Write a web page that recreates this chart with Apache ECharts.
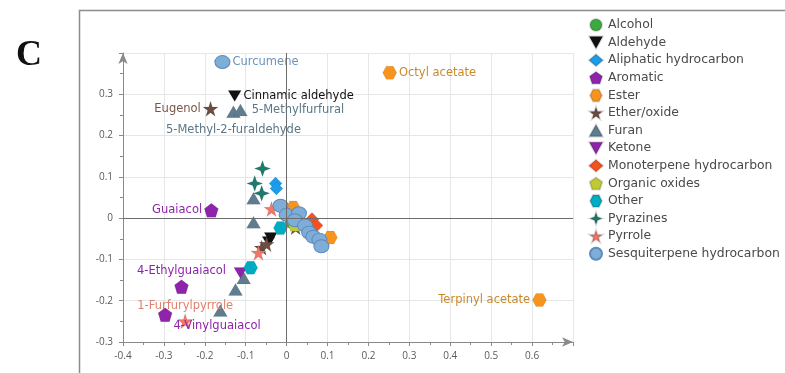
<!DOCTYPE html>
<html>
<head>
<meta charset="utf-8">
<script src="https://cdn.jsdelivr.net/npm/echarts@6/dist/echarts.min.js"></script>
<style>
  html, body { margin: 0; padding: 0; background: #fff; }
  #chart { width: 785px; height: 373px; }
</style>
</head>
<body>
<div id="chart"></div>
<script>
// Compound classes (legend order) and their score points [PC1, PC2, optional name]
const categories = [
  'Alcohol', 'Aldehyde', 'Aliphatic hydrocarbon', 'Aromatic', 'Ester', 'Ether/oxide',
  'Furan', 'Ketone', 'Monoterpene hydrocarbon', 'Organic oxides', 'Other',
  'Pyrazines', 'Pyrrole', 'Sesquiterpene hydrocarbon'
];

const alcohol = [[0.012, -0.010]];
const aldehyde = [[-0.127, 0.296, 'Cinnamic aldehyde'], [-0.039, -0.048], [-0.044, -0.058]];
const aliphatic = [[-0.027, 0.084], [-0.025, 0.072], [0.030, 0.003]];
const aromatic = [[-0.184, 0.019, 'Guaiacol'], [-0.257, -0.166, '4-Ethylguaiacol'], [-0.297, -0.234, '4-Vinylguaiacol']];
const ester = [[0.252, 0.352, 'Octyl acetate'], [0.618, -0.198, 'Terpinyl acetate'], [0.016, 0.026], [0.107, -0.047]];
const etherOxide = [[-0.186, 0.265, 'Eugenol'], [-0.061, -0.072], [-0.049, -0.063], [0.022, -0.022]];
const furan = [[-0.130, 0.258, '5-Methyl-2-furaldehyde'], [-0.113, 0.262, '5-Methylfurfural'], [-0.081, 0.048], [-0.081, -0.010], [-0.105, -0.145], [-0.125, -0.173], [-0.162, -0.224]];
const ketone = [[-0.113, -0.133]];
const monoterpene = [[0.062, -0.003], [0.072, -0.018], [0.052, -0.026]];
const organicOxides = [[0.020, -0.015]];
const other = [[-0.015, -0.024], [-0.088, -0.120]];
const pyrazines = [[-0.059, 0.120], [-0.078, 0.084], [-0.061, 0.060]];
const pyrrole = [[-0.037, 0.022], [-0.069, -0.084], [-0.248, -0.250, '1-Furfurylpyrrole']];
const sesquiterpene = [[-0.157, 0.378, 'Curcumene'], [-0.015, 0.030], [0.000, 0.008], [0.030, 0.012], [0.020, -0.005], [0.045, -0.018], [0.055, -0.035], [0.065, -0.045], [0.080, -0.052], [0.085, -0.068]];

const seriesValues = [alcohol, aldehyde, aliphatic, aromatic, ester, etherOxide, furan, ketone,
  monoterpene, organicOxides, other, pyrazines, pyrrole, sesquiterpene];

// Axis ranges and tick step
const xRange = [-0.4, 0.7];
const yRange = [-0.3, 0.4];
const tickStep = 0.1;
const zeroLines = [0, 0];

// Marker shapes
const shapes = {
  circle: 'circle',
  downTriangle: 'path://M0,0 L100,0 L50,90 Z',
  upTriangle: 'path://M50,0 L100,90 L0,90 Z',
  diamond: 'diamond',
  pentagon: 'path://M50,0 L97.6,34.5 L79.4,90.5 L20.6,90.5 L2.4,34.5 Z',
  hexagon: 'path://M25,0 L75,0 L100,50 L75,100 L25,100 L0,50 Z',
  star5: 'path://M50,0 L61.8,35.3 L99,35.3 L69,57.3 L80.4,92.7 L50,70.8 L19.6,92.7 L31,57.3 L1,35.3 L38.2,35.3 Z',
  star4: 'path://M50,0 L63,37 L100,50 L63,63 L50,100 L37,63 L0,50 L37,37 Z'
};

const styles = [
  { color: '#3daa3f', symbol: shapes.circle, size: 13, label: '#3daa3f' },
  { color: '#111111', symbol: shapes.downTriangle, size: [13, 11], label: '#111111' },
  { color: '#1e9be9', symbol: shapes.diamond, size: 13, label: '#1e9be9' },
  { color: '#8e24aa', symbol: shapes.pentagon, size: 14, label: '#8e24aa' },
  { color: '#f7941d', symbol: shapes.hexagon, size: [14, 13], label: '#c98a2a' },
  { color: '#6d4c41', symbol: shapes.star5, size: 15, label: '#7a5548' },
  { color: '#5f7d8e', symbol: shapes.upTriangle, size: [14, 12], label: '#5b7688' },
  { color: '#8e24aa', symbol: shapes.downTriangle, size: [13, 11], label: '#8e24aa' },
  { color: '#f4511e', symbol: shapes.diamond, size: 14, label: '#f4511e' },
  { color: '#c0ca33', symbol: shapes.pentagon, size: 14, label: '#c0ca33' },
  { color: '#00acc1', symbol: shapes.hexagon, size: [14, 13], label: '#00acc1' },
  { color: '#1f7a6c', symbol: shapes.star4, size: 16, label: '#1f7a6c' },
  { color: '#f0766a', symbol: shapes.star5, size: 15, label: '#e0806e' },
  { color: '#7eadd8', symbol: shapes.circle, size: [15, 13], label: '#6a93bd', border: '#5c8cbb' }
];

// Where each compound name sits relative to its marker
const labelPlacement = {
  'Curcumene': { position: 'right', distance: 2 },
  'Octyl acetate': { position: 'right', distance: 2 },
  'Cinnamic aldehyde': { position: 'right', distance: 2 },
  'Eugenol': { position: 'left', distance: 2 },
  '5-Methylfurfural': { position: 'right', distance: 4 },
  '5-Methyl-2-furaldehyde': { position: 'bottom', distance: 6 },
  'Guaiacol': { position: 'left', distance: 2 },
  '4-Ethylguaiacol': { position: 'top', distance: 2 },
  '1-Furfurylpyrrole': { position: 'top', distance: 2 },
  '4-Vinylguaiacol': { position: 'bottom', distance: 1, offset: [52, -3] },
  'Terpinyl acetate': { position: 'left', distance: 2 }
};

const FONT = '"DejaVu Sans", "Open Sans", sans-serif';
const TICK_FONT = '"Open Sans", "Noto Sans", sans-serif';

const series = categories.map(function (name, i) {
  const st = styles[i];
  const data = seriesValues[i].map(function (p) {
    const item = { value: [p[0], p[1]] };
    if (p[2]) {
      const lp = labelPlacement[p[2]];
      item.name = p[2];
      item.label = {
        show: true,
        formatter: p[2],
        position: lp.position,
        distance: lp.distance,
        offset: lp.offset || [0, 0],
        color: st.label,
        fontSize: 11.5,
        fontFamily: FONT
      };
    }
    return item;
  });
  return {
    name: name,
    type: 'scatter',
    symbol: st.symbol,
    symbolSize: st.size,
    itemStyle: {
      color: st.color,
      borderColor: st.border || 'rgba(0,0,0,0.15)',
      borderWidth: st.border ? 1 : 0.5,
      opacity: 1
    },
    emphasis: { disabled: true },
    data: data,
    z: 3
  };
});

// Dark reference lines through the origin
series.push({
  name: 'zero',
  type: 'scatter',
  data: [],
  silent: true,
  markLine: {
    silent: true,
    symbol: 'none',
    label: { show: false },
    lineStyle: { color: '#6b6b6b', width: 1, type: 'solid' },
    data: [{ xAxis: zeroLines[0] }, { yAxis: zeroLines[1] }]
  },
  z: 2
});

function tickLabel(maxShown) {
  return function (v) {
    const r = Math.round(v * 10) / 10;
    if (r > maxShown + 1e-9) return '';
    return r === 0 ? '0' : String(r);
  };
}

const axisCommon = {
  type: 'value',
  interval: tickStep,
  axisLine: {
    show: true,
    onZero: false,
    symbol: ['none', 'arrow'],
    symbolSize: [7, 11],
    lineStyle: { color: '#8a8a8a', width: 1 }
  },
  axisTick: { show: true, length: 4, lineStyle: { color: '#8a8a8a' } },
  minorTick: { show: true, splitNumber: 2, length: 3, lineStyle: { color: '#8a8a8a' } },
  splitLine: { show: true, lineStyle: { color: '#e6e6e6', width: 1 } },
  axisLabel: { color: '#5a5a5a', fontSize: 10, fontFamily: TICK_FONT }
};

const chart = echarts.init(document.getElementById('chart'), null, { renderer: 'canvas' });
chart.setOption({
  animation: false,
  backgroundColor: '#ffffff',
  grid: { left: 123, right: 212, top: 53, bottom: 31, containLabel: false },
  xAxis: Object.assign({}, axisCommon, {
    min: xRange[0], max: xRange[1],
    axisLabel: Object.assign({}, axisCommon.axisLabel, { margin: 9, formatter: tickLabel(0.6) })
  }),
  yAxis: Object.assign({}, axisCommon, {
    min: yRange[0], max: yRange[1],
    axisLabel: Object.assign({}, axisCommon.axisLabel, { margin: 10, formatter: tickLabel(0.3) })
  }),
  legend: {
    data: categories,
    orient: 'vertical',
    left: 588,
    top: 18,
    padding: 0,
    itemWidth: 14,
    itemHeight: 12,
    itemGap: 3.6,
    textStyle: { color: '#4a4a4a', fontSize: 12.4, fontFamily: FONT },
    selectedMode: false
  },
  graphic: [
    {
      type: 'rect',
      left: 77, top: 8,
      shape: { width: 760, height: 420 },
      style: { fill: 'none', stroke: '#8c8c8c', lineWidth: 1.5 },
      silent: true
    },
    {
      type: 'text',
      left: 16, top: 38,
      style: { text: 'C', font: 'bold 36px "Liberation Serif", "DejaVu Serif", serif', fill: '#111' },
      silent: true
    }
  ],
  series: series
});
</script>
</body>
</html>
